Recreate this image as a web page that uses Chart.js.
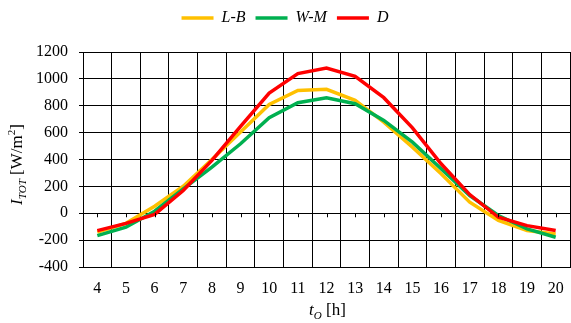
<!DOCTYPE html>
<html>
<head>
<meta charset="utf-8">
<script src="https://cdn.jsdelivr.net/npm/chart.js@4.4.1/dist/chart.umd.min.js"></script>
<style>
  html, body { margin: 0; padding: 0; background: #fff; }
</style>
</head>
<body>
<canvas id="myChart" width="571" height="323"></canvas>
<script>
'use strict';

// data
let hours = ['4', '5', '6', '7', '8', '9', '10', '11', '12', '13', '14', '15', '16', '17', '18', '19', '20'];
let lbValues = [-141, -75, 52, 201, 400, 604, 810, 914, 922, 840, 678, 492, 294, 82, -54, -129, -154];
let wmValues = [-166, -104, 15, 181, 343, 517, 711, 822, 860, 815, 691, 529, 331, 132, -17, -116, -179];
let dValues = [-129, -75, -8, 169, 393, 646, 894, 1039, 1081, 1019, 860, 636, 368, 139, -30, -92, -129];
let yMin = -400;
let yMax = 1200;
let yStep = 200;

let serif = '"Liberation Serif", "Times New Roman", serif';
let ctx = document.getElementById('myChart').getContext('2d');

// draws text made of pieces (italic / subscript / superscript), centred on 0,0
function drawRich(c, parts, size) {
  let total = 0;
  parts.forEach(function (p) {
    let s = (p.sub || p.sup) ? size * 0.65 : size;
    c.font = (p.italic ? 'italic ' : '') + s + 'px ' + serif;
    p.w = c.measureText(p.text).width;
    p.s = s;
    total += p.w;
  });
  let x = -total / 2;
  c.textBaseline = 'middle';
  c.textAlign = 'left';
  parts.forEach(function (p) {
    c.font = (p.italic ? 'italic ' : '') + p.s + 'px ' + serif;
    let dy = p.sub ? size * 0.28 : (p.sup ? -size * 0.33 : 0);
    c.fillText(p.text, x, dy);
    x += p.w;
  });
}

let axisTitles = {
  id: 'axisTitles',
  afterDraw(chart) {
    let c = chart.ctx;
    let area = chart.chartArea;
    c.save();
    c.fillStyle = '#000';
    // y title
    c.save();
    c.translate(18, (area.top + area.bottom) / 2 + 5);
    c.rotate(-Math.PI / 2);
    drawRich(c, [
      { text: 'I', italic: true },
      { text: 'TOT', italic: true, sub: true },
      { text: ' [W/m' },
      { text: '2', sup: true },
      { text: ']' }
    ], 17);
    c.restore();
    // x title
    c.save();
    c.translate((area.left + area.right) / 2 + 1, 311);
    drawRich(c, [
      { text: 't', italic: true },
      { text: 'O', italic: true, sub: true },
      { text: ' [h]' }
    ], 17);
    c.restore();
    c.restore();
  }
};

// small marks on the zero line at each category
let zeroTicks = {
  id: 'zeroTicks',
  afterDatasetsDraw(chart) {
    let c = chart.ctx;
    let xs = chart.scales.x;
    let y0 = chart.scales.y.getPixelForValue(0);
    c.save();
    c.strokeStyle = '#000';
    c.lineWidth = 1;
    c.beginPath();
    for (let i = 0; i < hours.length; i++) {
      let x = Math.round(xs.getPixelForValue(i)) + 0.5;
      c.moveTo(x, y0);
      c.lineTo(x, y0 + 4);
    }
    c.stroke();
    c.restore();
  }
};

let myChartObj = {
  type: 'line',
  data: {
    labels: hours,
    datasets: [{
      label: 'L-B',
      data: lbValues,
      borderColor: '#FFC000',
      backgroundColor: '#FFC000',
      borderWidth: 3.5,
      pointRadius: 0,
      tension: 0,
      order: 2
    },
    {
      label: 'W-M',
      data: wmValues,
      borderColor: '#00B050',
      backgroundColor: '#00B050',
      borderWidth: 3.5,
      pointRadius: 0,
      tension: 0,
      order: 1
    },
    {
      label: 'D',
      data: dValues,
      borderColor: '#FF0000',
      backgroundColor: '#FF0000',
      borderWidth: 3.5,
      pointRadius: 0,
      tension: 0,
      order: 0
    }]
  },
  options: {
    responsive: false,
    animation: false,
    layout: {
      padding: { left: 0, right: 1, top: 0, bottom: 0 }
    },
    scales: {
      x: {
        offset: true,
        grid: {
          offset: true,
          color: '#000',
          lineWidth: 1,
          drawTicks: false
        },
        border: { color: '#000', width: 1 },
        ticks: {
          color: '#000',
          padding: 12,
          maxRotation: 0,
          autoSkip: false,
          font: { family: serif, size: 16 }
        },
        afterFit(scale) {
          scale.height = 56;
          scale.paddingLeft = 0;
          scale.paddingRight = 0;
        }
      },
      y: {
        min: yMin,
        max: yMax,
        grid: {
          color: '#000',
          lineWidth: 1,
          tickLength: 4
        },
        border: { color: '#000', width: 1 },
        ticks: {
          stepSize: yStep,
          color: '#000',
          padding: 11,
          font: { family: serif, size: 16 },
          callback: function (value) { return String(value); }
        },
        afterFit(scale) {
          scale.width = 83;
        }
      },
      spacer: {
        type: 'category',
        position: 'top',
        labels: [],
        grid: { display: false },
        border: { display: false },
        ticks: { display: false },
        afterFit(scale) {
          scale.height = 16;
        }
      }
    },
    plugins: {
      legend: {
        position: 'top',
        labels: {
          color: '#000',
          usePointStyle: true,
          pointStyle: 'line',
          pointStyleWidth: 32,
          padding: 10,
          font: { family: serif, size: 16, style: 'italic' },
          sort: function (a, b) { return a.datasetIndex - b.datasetIndex; }
        }
      },
      tooltip: { enabled: false }
    }
  },
  plugins: [axisTitles, zeroTicks]
};

const myChart = new Chart(ctx, myChartObj);
</script>
</body>
</html>
